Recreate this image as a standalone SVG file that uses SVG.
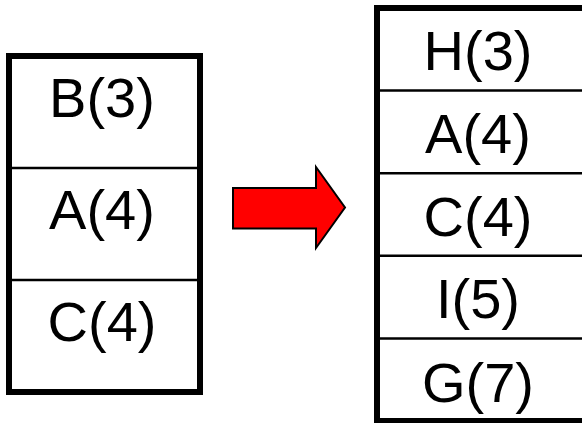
<svg xmlns="http://www.w3.org/2000/svg" width="582" height="423" viewBox="0 0 582 423">
  <style>
    .frame { fill: #ffffff; stroke: #000000; stroke-width: 6; }
    .divider { stroke: #000000; stroke-width: 2.5; }
    .label { font-family: "Liberation Sans", Arial, sans-serif; font-size: 56px; fill: #000000; text-anchor: middle; }
    .arrow { fill: #ff0000; stroke: #000000; stroke-width: 2; stroke-linejoin: miter; }
  </style>
  <rect width="582" height="423" fill="#ffffff"/>

  <!-- left list -->
  <g id="left-list">
    <rect class="frame" x="9" y="56" width="191" height="336"/>
    <line class="divider" x1="12" y1="168" x2="197" y2="168"/>
    <line class="divider" x1="12" y1="280" x2="197" y2="280"/>
  </g>
  <g id="left-B3"><text class="label" x="102" y="117">B(3)</text></g>
  <g id="left-A4"><text class="label" x="102" y="229">A(4)</text></g>
  <g id="left-C4"><text class="label" x="102" y="341">C(4)</text></g>

  <!-- transition arrow -->
  <g id="connectors">
    <polygon class="arrow" points="233,188 316,188 316,167 345,207.5 316,248 316,228.5 233,228.5"/>
  </g>

  <!-- right list -->
  <g id="right-list">
    <rect class="frame" x="377" y="8" width="240" height="413"/>
    <line class="divider" x1="380" y1="90.6" x2="582" y2="90.6"/>
    <line class="divider" x1="380" y1="173.2" x2="582" y2="173.2"/>
    <line class="divider" x1="380" y1="255.8" x2="582" y2="255.8"/>
    <line class="divider" x1="380" y1="338.4" x2="582" y2="338.4"/>
  </g>
  <g id="right-H3"><text class="label" x="478" y="70">H(3)</text></g>
  <g id="right-A4"><text class="label" x="478" y="153">A(4)</text></g>
  <g id="right-C4"><text class="label" x="478" y="236">C(4)</text></g>
  <g id="right-I5"><text class="label" x="478" y="318">I(5)</text></g>
  <g id="right-G7"><text class="label" x="478" y="402">G(7)</text></g>
</svg>
